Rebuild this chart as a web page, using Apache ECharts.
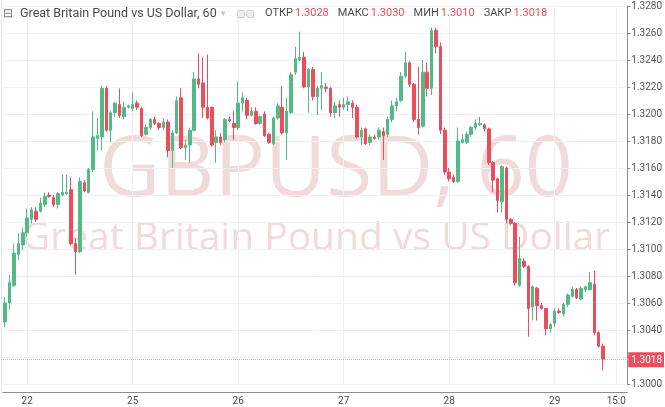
<!DOCTYPE html>
<html>
<head>
<meta charset="utf-8">
<script src="https://cdn.jsdelivr.net/npm/echarts@6/dist/echarts.min.js"></script>
<style>
  html, body { margin: 0; padding: 0; background: #fff; }
  #chart { width: 665px; height: 407px; }
</style>
</head>
<body>
<div id="chart"></div>
<script>
// ======================
// DATA (hourly candles, GBPUSD 60)
// ======================

const opens = [
  1.3046, 1.3060, 1.3073, 1.3096, 1.3103, 1.3112, 1.3122, 1.3128, 1.3128, 1.3133,
  1.3140, 1.3138, 1.3133, 1.3140, 1.3141, 1.3144, 1.3104, 1.3098, 1.3149, 1.3142,
  1.3159, 1.3182, 1.3183, 1.3219, 1.3188, 1.3201, 1.3207, 1.3198, 1.3205, 1.3204,
  1.3208, 1.3204, 1.3185, 1.3190, 1.3196, 1.3193, 1.3190, 1.3194, 1.3173, 1.3186,
  1.3212, 1.3175, 1.3177, 1.3188, 1.3226, 1.3223, 1.3205, 1.3205, 1.3179, 1.3183,
  1.3181, 1.3196, 1.3193, 1.3190, 1.3208, 1.3210, 1.3199, 1.3202, 1.3193, 1.3200,
  1.3185, 1.3178, 1.3197, 1.3205, 1.3186, 1.3201, 1.3231, 1.3240, 1.3242, 1.3220,
  1.3233, 1.3213, 1.3219, 1.3220, 1.3219, 1.3201, 1.3207, 1.3205, 1.3207, 1.3208,
  1.3205, 1.3183, 1.3189, 1.3179, 1.3183, 1.3183, 1.3187, 1.3185, 1.3196, 1.3206,
  1.3210, 1.3228, 1.3238, 1.3222, 1.3196, 1.3191, 1.3231, 1.3219, 1.3262, 1.3250,
  1.3188, 1.3157, 1.3153, 1.3150, 1.3179, 1.3179, 1.3185, 1.3190, 1.3192, 1.3192,
  1.3189, 1.3164, 1.3152, 1.3135, 1.3160, 1.3122, 1.3119, 1.3073, 1.3091, 1.3087,
  1.3057, 1.3071, 1.3058, 1.3056, 1.3041, 1.3045, 1.3054, 1.3052, 1.3059, 1.3065,
  1.3070, 1.3063, 1.3070, 1.3070, 1.3074, 1.3038, 1.3028
];

const closes = [
  1.3060, 1.3075, 1.3097, 1.3104, 1.3112, 1.3123, 1.3129, 1.3122, 1.3134, 1.3139,
  1.3139, 1.3133, 1.3141, 1.3142, 1.3142, 1.3104, 1.3098, 1.3150, 1.3143, 1.3159,
  1.3183, 1.3184, 1.3219, 1.3188, 1.3201, 1.3208, 1.3199, 1.3205, 1.3206, 1.3207,
  1.3205, 1.3184, 1.3190, 1.3196, 1.3193, 1.3190, 1.3194, 1.3173, 1.3186, 1.3210,
  1.3175, 1.3177, 1.3188, 1.3226, 1.3222, 1.3205, 1.3197, 1.3177, 1.3183, 1.3179,
  1.3196, 1.3195, 1.3190, 1.3208, 1.3212, 1.3199, 1.3202, 1.3193, 1.3198, 1.3184,
  1.3179, 1.3197, 1.3206, 1.3186, 1.3202, 1.3229, 1.3241, 1.3242, 1.3220, 1.3233,
  1.3213, 1.3219, 1.3221, 1.3219, 1.3201, 1.3206, 1.3205, 1.3207, 1.3209, 1.3205,
  1.3183, 1.3188, 1.3178, 1.3183, 1.3182, 1.3188, 1.3184, 1.3196, 1.3206, 1.3209,
  1.3228, 1.3238, 1.3222, 1.3196, 1.3190, 1.3231, 1.3219, 1.3262, 1.3250, 1.3188,
  1.3157, 1.3152, 1.3150, 1.3180, 1.3181, 1.3185, 1.3190, 1.3193, 1.3193, 1.3189,
  1.3164, 1.3151, 1.3136, 1.3161, 1.3122, 1.3119, 1.3075, 1.3093, 1.3087, 1.3056,
  1.3072, 1.3058, 1.3056, 1.3041, 1.3044, 1.3054, 1.3053, 1.3059, 1.3066, 1.3070,
  1.3064, 1.3071, 1.3072, 1.3075, 1.3038, 1.3028, 1.3018
];

const lows = [
  1.3042, 1.3055, 1.3072, 1.3092, 1.3099, 1.3109, 1.3119, 1.3120, 1.3127, 1.3131,
  1.3138, 1.3131, 1.3130, 1.3139, 1.3140, 1.3103, 1.3081, 1.3097, 1.3142, 1.3141,
  1.3157, 1.3173, 1.3173, 1.3187, 1.3179, 1.3198, 1.3197, 1.3196, 1.3204, 1.3202,
  1.3203, 1.3183, 1.3184, 1.3188, 1.3192, 1.3188, 1.3188, 1.3168, 1.3160, 1.3185,
  1.3174, 1.3166, 1.3164, 1.3187, 1.3219, 1.3197, 1.3196, 1.3176, 1.3164, 1.3177,
  1.3179, 1.3194, 1.3181, 1.3188, 1.3202, 1.3196, 1.3198, 1.3192, 1.3192, 1.3183,
  1.3178, 1.3177, 1.3196, 1.3185, 1.3166, 1.3200, 1.3229, 1.3239, 1.3219, 1.3201,
  1.3210, 1.3199, 1.3203, 1.3216, 1.3198, 1.3197, 1.3198, 1.3203, 1.3202, 1.3197,
  1.3182, 1.3177, 1.3177, 1.3177, 1.3181, 1.3181, 1.3166, 1.3183, 1.3194, 1.3202,
  1.3209, 1.3227, 1.3220, 1.3194, 1.3185, 1.3190, 1.3213, 1.3214, 1.3245, 1.3185,
  1.3155, 1.3150, 1.3149, 1.3149, 1.3178, 1.3178, 1.3183, 1.3188, 1.3191, 1.3187,
  1.3162, 1.3142, 1.3127, 1.3127, 1.3119, 1.3118, 1.3073, 1.3072, 1.3086, 1.3035,
  1.3047, 1.3047, 1.3055, 1.3036, 1.3038, 1.3042, 1.3052, 1.3050, 1.3057, 1.3064,
  1.3063, 1.3062, 1.3068, 1.3069, 1.3036, 1.3027, 1.3010
];

const highs = [
  1.3064, 1.3081, 1.3104, 1.3112, 1.3116, 1.3130, 1.3131, 1.3131, 1.3138, 1.3142,
  1.3142, 1.3140, 1.3142, 1.3155, 1.3155, 1.3153, 1.3108, 1.3153, 1.3151, 1.3160,
  1.3202, 1.3197, 1.3221, 1.3221, 1.3202, 1.3209, 1.3219, 1.3209, 1.3207, 1.3216,
  1.3210, 1.3205, 1.3192, 1.3197, 1.3198, 1.3194, 1.3197, 1.3196, 1.3188, 1.3213,
  1.3219, 1.3181, 1.3190, 1.3231, 1.3245, 1.3242, 1.3244, 1.3205, 1.3188, 1.3186,
  1.3197, 1.3198, 1.3202, 1.3224, 1.3216, 1.3212, 1.3205, 1.3205, 1.3199, 1.3202,
  1.3186, 1.3198, 1.3208, 1.3221, 1.3212, 1.3231, 1.3250, 1.3261, 1.3246, 1.3234,
  1.3235, 1.3221, 1.3231, 1.3223, 1.3220, 1.3209, 1.3210, 1.3212, 1.3213, 1.3210,
  1.3207, 1.3190, 1.3190, 1.3185, 1.3185, 1.3190, 1.3190, 1.3198, 1.3210, 1.3212,
  1.3231, 1.3246, 1.3239, 1.3223, 1.3235, 1.3240, 1.3238, 1.3264, 1.3264, 1.3253,
  1.3190, 1.3160, 1.3155, 1.3190, 1.3185, 1.3187, 1.3191, 1.3196, 1.3198, 1.3193,
  1.3190, 1.3165, 1.3153, 1.3162, 1.3161, 1.3123, 1.3120, 1.3109, 1.3093, 1.3088,
  1.3073, 1.3072, 1.3060, 1.3056, 1.3045, 1.3056, 1.3056, 1.3060, 1.3067, 1.3072,
  1.3071, 1.3072, 1.3073, 1.3083, 1.3084, 1.3039, 1.3030
];

// x-axis tick labels and the candle slots they sit on
const dayTickIdx = [5, 29, 53, 77, 101, 125, 139];
const dayTickNames = ['22', '25', '26', '27', '28', '29', '15:0'];

// header (OHLC of the last bar)
const headerKeys = ['ОТКР', 'МАКС', 'МИН', 'ЗАКР'];
const headerVals = ['1.3028', '1.3030', '1.3010', '1.3018'];
const lastPrice = 1.3018;

const SLOTS = 142; // 137 bars + empty space to the right

// ======================
// STYLE
// ======================

const UP = '#53b987';
const DOWN = '#eb4d5c';
const GRID_LINE = '#eef1f5';
const AXIS_LINE = '#8c8c8c';
const TEXT = '#4a4a4a';
const WATERMARK = '#f2dada';
const FONT = 'Roboto, "Noto Sans", sans-serif';
const WM_FONT = '"Open Sans", Roboto, sans-serif';

// ======================
// BUILD
// ======================

const categories = Array.from({ length: SLOTS }, (_, i) => String(i));
const candles = opens.map((o, i) => [o, closes[i], lows[i], highs[i]]);

function isDayTick(index) {
    return dayTickIdx.indexOf(index) !== -1;
}

function headerRich() {
    return headerKeys
        .map((k, i) => `{k|${k}}{v|${headerVals[i]}}`)
        .join('{gap| }');
}

function getChartOption() {
    return {
        animation: false,
        backgroundColor: '#ffffff',
        textStyle: { fontFamily: FONT },
        grid: { left: 3, right: 34, top: 6, bottom: 23 },
        axisPointer: { triggerOn: 'none' },
        graphic: [
            // chart frame on the left
            {
                type: 'rect', z: 0, left: 1, top: 0,
                shape: { width: 1, height: 392 },
                style: { fill: '#e3e7ec' }
            },
            // watermark
            {
                type: 'text', z: 0, x: 336, y: 172,
                style: {
                    text: 'GBPUSD, 60', font: '84px ' + WM_FONT, fill: WATERMARK,
                    textAlign: 'center', textVerticalAlign: 'middle'
                }
            },
            {
                type: 'text', z: 0, x: 316, y: 239,
                style: {
                    text: 'Great Britain Pound vs US Dollar', font: '39px ' + WM_FONT, fill: WATERMARK,
                    textAlign: 'center', textVerticalAlign: 'middle'
                }
            },
            // header
            {
                type: 'text', z: 10, left: 3, top: 8,
                style: { text: '⊟', font: '12px ' + FONT, fill: '#7d7d7d' }
            },
            {
                type: 'text', z: 10, left: 20, top: 7,
                style: { text: 'Great Britain Pound vs US Dollar, 60', font: '12.5px ' + FONT, fill: TEXT }
            },
            {
                type: 'text', z: 10, left: 221, top: 9,
                style: { text: '▾', font: '9px ' + FONT, fill: '#c4c4c4' }
            },
            {
                type: 'rect', z: 10, left: 237, top: 10,
                shape: { width: 7, height: 7, r: 1 },
                style: { fill: '#eeeeee', stroke: '#cfcfcf', lineWidth: 1 }
            },
            {
                type: 'rect', z: 10, left: 246, top: 10,
                shape: { width: 7, height: 7, r: 1 },
                style: { fill: '#eeeeee', stroke: '#cfcfcf', lineWidth: 1 }
            },
            {
                type: 'text', z: 10, left: 265, top: 8,
                style: {
                    text: headerRich(),
                    rich: {
                        k: { fontSize: 11, fontFamily: FONT, fill: TEXT, padding: [0, 2, 0, 0] },
                        v: { fontSize: 11, fontFamily: FONT, fill: DOWN },
                        gap: { fontSize: 11, width: 9 }
                    }
                }
            }
        ],
        xAxis: {
            type: 'category',
            data: categories,
            boundaryGap: true,
            offset: 8,
            axisLine: { lineStyle: { color: AXIS_LINE } },
            axisTick: { show: false },
            axisLabel: {
                interval: (index) => isDayTick(index),
                formatter: (value) => {
                    const k = dayTickIdx.indexOf(Number(value));
                    return k === -1 ? '' : dayTickNames[k];
                },
                color: TEXT,
                fontSize: 10,
                margin: 4
            },
            splitLine: {
                show: true,
                alignWithLabel: true,
                interval: (index) => isDayTick(index),
                lineStyle: { color: GRID_LINE }
            }
        },
        yAxis: {
            type: 'value',
            position: 'right',
            min: 1.3,
            max: 1.328,
            interval: 0.002,
            axisLine: { show: true, lineStyle: { color: AXIS_LINE } },
            axisTick: { show: true, length: 3, lineStyle: { color: AXIS_LINE } },
            axisLabel: {
                color: '#555',
                fontSize: 10,
                margin: 4,
                formatter: (v) => Math.abs(v - 1.302) < 1e-9 ? '' : v.toFixed(4)
            },
            splitLine: { lineStyle: { color: GRID_LINE } },
            // last price line + tag on the axis
            axisPointer: {
                show: true,
                type: 'line',
                value: lastPrice,
                status: 'show',
                snap: false,
                triggerTooltip: false,
                lineStyle: { color: '#f3a9b0', type: 'dotted', width: 1 },
                label: {
                    show: true,
                    formatter: () => lastPrice.toFixed(4),
                    color: '#fff',
                    backgroundColor: DOWN,
                    fontSize: 10,
                    margin: 1,
                    padding: [3, 2, 2, 3],
                    borderRadius: 0,
                    shadowBlur: 0
                },
                handle: { show: false }
            }
        },
        series: [
            {
                type: 'candlestick',
                data: candles,
                barWidth: 3,
                itemStyle: {
                    color: UP,
                    color0: DOWN,
                    borderColor: UP,
                    borderColor0: DOWN,
                    borderWidth: 1
                }
            }
        ]
    };
}

// ======================
// RENDER
// ======================

const chart = echarts.init(document.getElementById('chart'));
chart.setOption(getChartOption());
</script>
</body>
</html>
